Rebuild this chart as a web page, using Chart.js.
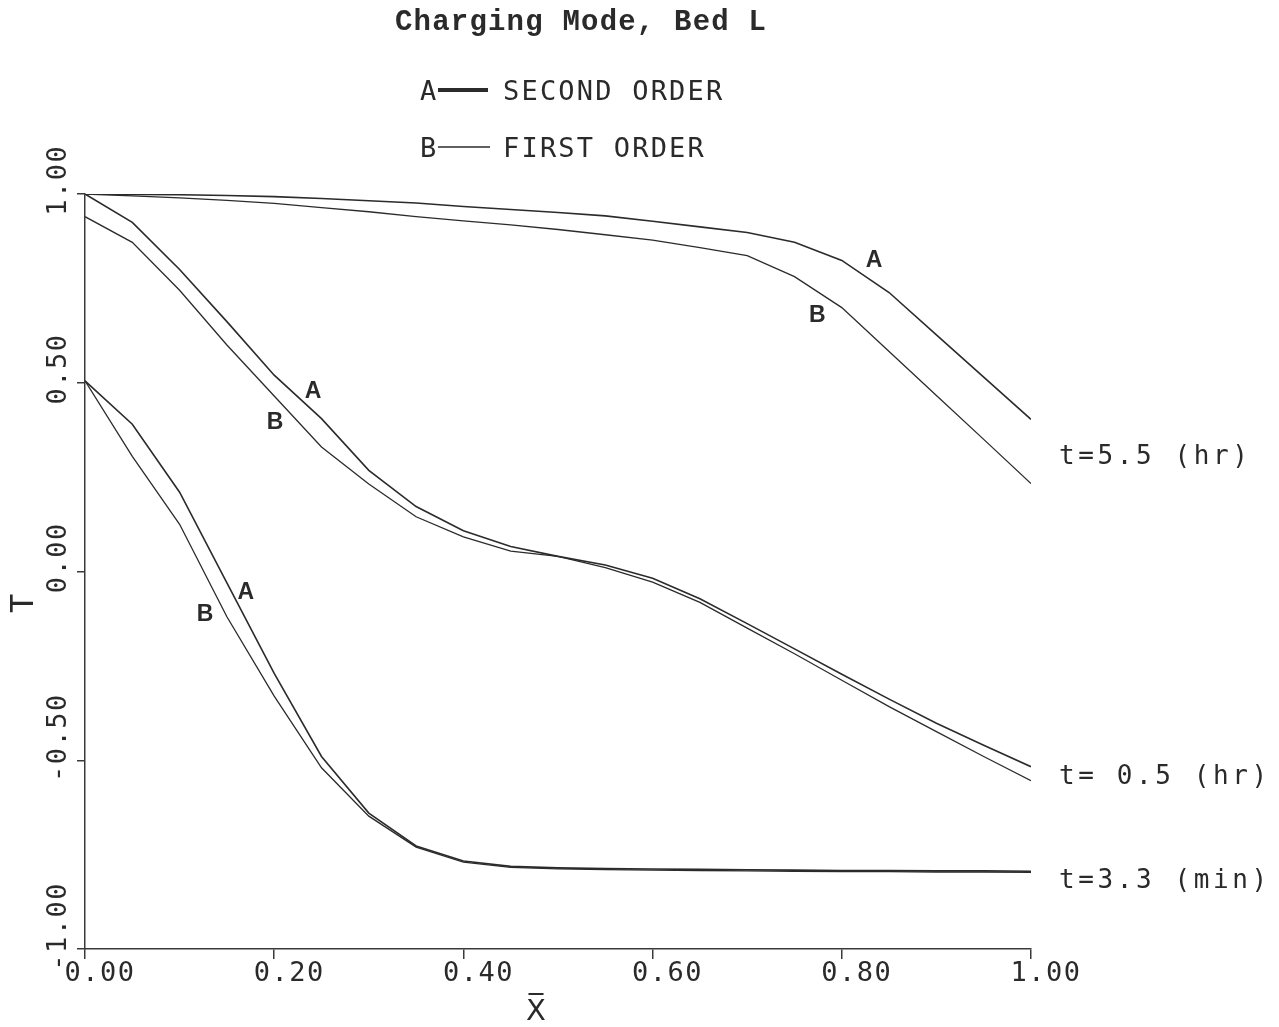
<!DOCTYPE html>
<html lang="en">
<head>
<meta charset="utf-8">
<title>Charging Mode, Bed L</title>
<script src="https://cdn.jsdelivr.net/npm/chart.js@4.4.1/dist/chart.umd.min.js"></script>
<style>
  html, body { margin: 0; padding: 0; background: #ffffff; }
  canvas { display: block; }
</style>
</head>
<body>
<canvas id="grafico" width="1279" height="1027"></canvas>
<script>
// Posição adimensional no leito (eixo X)
const posX = [0.00, 0.05, 0.10, 0.15, 0.20, 0.25, 0.30, 0.35, 0.40, 0.45, 0.50,
              0.55, 0.60, 0.65, 0.70, 0.75, 0.80, 0.85, 0.90, 0.95, 1.00];

// t = 5.5 hr
const t55Segunda = [1.000, 0.999, 0.998, 0.996, 0.993, 0.988, 0.982, 0.976, 0.967, 0.959, 0.951,
                    0.942, 0.928, 0.913, 0.898, 0.872, 0.824, 0.739, 0.627, 0.515, 0.403];
const t55Primeira = [1.000, 0.995, 0.990, 0.983, 0.975, 0.964, 0.953, 0.940, 0.929, 0.918, 0.906,
                     0.892, 0.878, 0.858, 0.837, 0.781, 0.699, 0.583, 0.466, 0.350, 0.233];

// t = 0.5 hr
const t05Segunda = [1.000, 0.925, 0.800, 0.662, 0.520, 0.405, 0.268, 0.172, 0.108, 0.066, 0.040,
                    0.017, -0.018, -0.072, -0.138, -0.205, -0.272, -0.338, -0.402, -0.460, -0.517];
const t05Primeira = [0.940, 0.872, 0.745, 0.600, 0.465, 0.330, 0.232, 0.145, 0.092, 0.054, 0.040,
                     0.010, -0.028, -0.082, -0.150, -0.218, -0.288, -0.358, -0.424, -0.490, -0.554];

// t = 3.3 min
const t33Segunda = [0.505, 0.390, 0.210, -0.030, -0.270, -0.490, -0.640, -0.727, -0.767, -0.781, -0.785,
                    -0.787, -0.788, -0.789, -0.790, -0.791, -0.792, -0.792, -0.793, -0.793, -0.794];
const t33Primeira = [0.505, 0.305, 0.125, -0.120, -0.330, -0.520, -0.648, -0.730, -0.770, -0.784, -0.788,
                     -0.790, -0.791, -0.792, -0.793, -0.794, -0.795, -0.795, -0.796, -0.796, -0.797];

// Marcas dos eixos
const xTicks = [0.0, 0.2, 0.4, 0.6, 0.8, 1.0];
const yTicks = [-1.0, -0.5, 0.0, 0.5, 1.0];

// Textos
const tituloGrafico = 'Charging Mode, Bed L';
const legendaA = 'SECOND ORDER';
const legendaB = 'FIRST ORDER';
const rotulosTempo = ['t=5.5 (hr)', 't= 0.5 (hr)', 't=3.3 (min)'];
const rotulosTempoY = [0.302, -0.546, -0.821];

// Letras A / B junto das curvas (em unidades dos eixos)
const marcasTexto = ['A', 'B', 'A', 'B', 'A', 'B'];
const marcasX = [0.834, 0.774, 0.241, 0.201, 0.170, 0.127];
const marcasY = [0.824, 0.678, 0.477, 0.395, -0.056, -0.114];

const corLinha = '#2b2b2b';
const corEixo = '#3a3a3a';
const corTexto = '#2a2a2a';
const fontePlotter = '"DejaVu Sans Mono"';

function serie(valores, largura) {
    return {
        data: posX.map((x, i) => ({ x: x, y: valores[i] })),
        borderColor: corLinha,
        borderWidth: largura,
        pointRadius: 0,
        tension: 0,
        fill: false
    };
}

// Espaçamento entre letras para os textos dos eixos
const espacamento = {
    id: 'espacamento',
    beforeLayout(chart) { chart.ctx.letterSpacing = '1.5px'; },
    beforeDraw(chart) { chart.ctx.letterSpacing = '1.5px'; }
};

// Título, legenda, letras das curvas e rótulos de tempo
const textos = {
    id: 'textos',
    afterDraw(chart) {
        const { ctx, scales: { x, y } } = chart;
        ctx.save();
        ctx.fillStyle = corTexto;
        ctx.strokeStyle = corLinha;

        // Título
        ctx.letterSpacing = '1.2px';
        ctx.font = 'bold 29px "Liberation Mono"';
        ctx.textAlign = 'left';
        ctx.textBaseline = 'alphabetic';
        ctx.fillText(tituloGrafico, 395, 30);

        // Legenda
        ctx.letterSpacing = '2.2px';
        ctx.font = '27px ' + fontePlotter;
        ctx.fillText('A', 420, 100);
        ctx.fillText(legendaA, 503, 100);
        ctx.fillText('B', 420, 157);
        ctx.fillText(legendaB, 503, 157);
        ctx.lineCap = 'butt';
        ctx.lineWidth = 4;
        ctx.beginPath(); ctx.moveTo(438, 90); ctx.lineTo(488, 90); ctx.stroke();
        ctx.lineWidth = 1.5;
        ctx.beginPath(); ctx.moveTo(438, 147); ctx.lineTo(490, 147); ctx.stroke();

        // Letras das curvas
        ctx.letterSpacing = '0px';
        ctx.font = 'bold 23px "Liberation Sans"';
        ctx.textAlign = 'center';
        ctx.textBaseline = 'middle';
        marcasTexto.forEach((t, i) => {
            ctx.fillText(t, x.getPixelForValue(marcasX[i]), y.getPixelForValue(marcasY[i]));
        });

        // Rótulos de tempo à direita
        ctx.letterSpacing = '3.6px';
        ctx.font = '26px ' + fontePlotter;
        ctx.textAlign = 'left';
        rotulosTempo.forEach((t, i) => {
            ctx.fillText(t, x.getPixelForValue(1) + 28, y.getPixelForValue(rotulosTempoY[i]));
        });
        ctx.restore();
    }
};

new Chart(document.getElementById('grafico').getContext('2d'), {
    type: 'line',
    data: {
        datasets: [
            serie(t55Segunda, 1.6), serie(t55Primeira, 1.3),
            serie(t05Segunda, 1.6), serie(t05Primeira, 1.3),
            serie(t33Segunda, 1.6), serie(t33Primeira, 1.3)
        ]
    },
    options: {
        responsive: false,
        animation: false,
        layout: { padding: { left: 0, right: 248, top: 194, bottom: 0 } },
        plugins: {
            legend: { display: false },
            tooltip: { enabled: false }
        },
        scales: {
            x: {
                type: 'linear',
                min: 0,
                max: 1,
                afterBuildTicks: s => { s.ticks = xTicks.map(v => ({ value: v })); },
                afterFit: s => { s.height = 78; },
                grid: { drawOnChartArea: false, tickLength: 10, color: corEixo, lineWidth: 1.5 },
                border: { color: corEixo, width: 1.5 },
                ticks: {
                    color: corTexto,
                    font: { family: fontePlotter, size: 27, lineHeight: 1 },
                    padding: 1,
                    labelOffset: 15,
                    maxRotation: 0,
                    callback: v => v.toFixed(2)
                },
                title: {
                    display: true,
                    text: 'X\u0305    ',
                    color: corTexto,
                    font: { family: '"DejaVu Sans"', size: 29, lineHeight: 1 },
                    padding: { top: 0, bottom: 0 }
                }
            },
            y: {
                min: -1,
                max: 1,
                afterBuildTicks: s => { s.ticks = yTicks.map(v => ({ value: v })); },
                afterFit: s => { s.width = 85; },
                grid: { drawOnChartArea: false, tickLength: 8, color: corEixo, lineWidth: 1.5 },
                border: { color: corEixo, width: 1.5 },
                ticks: {
                    color: corTexto,
                    font: { family: fontePlotter, size: 27, lineHeight: 1 },
                    padding: 18,
                    minRotation: 90,
                    maxRotation: 90,
                    labelOffset: -67,
                    // espaço final para que todos os rótulos tenham a mesma largura
                    callback: v => v < 0 ? v.toFixed(2) : v.toFixed(2) + ' '
                },
                title: {
                    display: true,
                    text: 'T   ',
                    color: corTexto,
                    font: { family: fontePlotter, size: 32, lineHeight: 1 },
                    padding: { top: 9, bottom: 0 }
                }
            }
        }
    },
    plugins: [espacamento, textos]
});
</script>
</body>
</html>
